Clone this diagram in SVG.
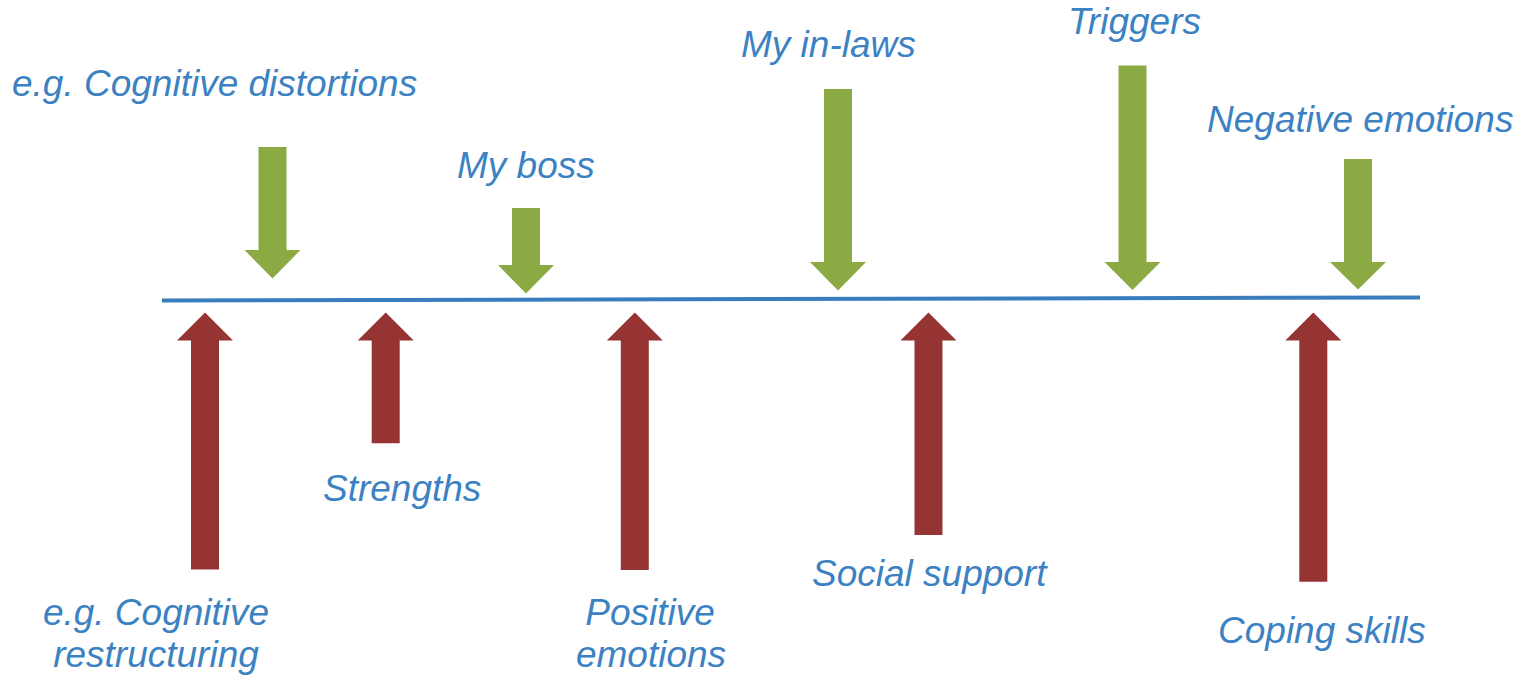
<svg xmlns="http://www.w3.org/2000/svg" width="1524" height="675" viewBox="0 0 1524 675">
  <style>
    .lbl { font-family: "Liberation Sans", Arial, sans-serif; font-style: italic; font-size: 37px; fill: #3C82C2; }
    .push { fill: #8BAA43; }
    .lift { fill: #963434; }
    .axis { stroke: #3A7DBC; stroke-width: 4; fill: none; }
  </style>
  <rect width="1524" height="675" fill="#FFFFFF"/>

  <!-- baseline -->
  <g id="connectors">
    <line class="axis" x1="162" y1="300.5" x2="1420" y2="297.5"/>
  </g>

  <!-- downward pressures (green) -->
  <g id="node-distortions">
    <polygon class="push" points="258.5,147 286.5,147 286.5,250 300.5,250 272.5,278.5 244.5,250 258.5,250"/>
    <text class="lbl" x="12" y="96">e.g. Cognitive distortions</text>
  </g>
  <g id="node-boss">
    <polygon class="push" points="512,208 540,208 540,265 554,265 526,293.5 498,265 512,265"/>
    <text class="lbl" x="457" y="178">My boss</text>
  </g>
  <g id="node-inlaws">
    <polygon class="push" points="824,89 852,89 852,262 866,262 838,290.5 810,262 824,262"/>
    <text class="lbl" x="741" y="57">My in-laws</text>
  </g>
  <g id="node-triggers">
    <polygon class="push" points="1118.5,65.5 1146.5,65.5 1146.5,262 1160.5,262 1132.5,290 1104.5,262 1118.5,262"/>
    <text class="lbl" x="1068" y="34">Triggers</text>
  </g>
  <g id="node-negative">
    <polygon class="push" points="1344,159 1372,159 1372,262 1386,262 1358,289.5 1330,262 1344,262"/>
    <text class="lbl" x="1207" y="132">Negative emotions</text>
  </g>

  <!-- upward supports (red) -->
  <g id="node-restructuring">
    <polygon class="lift" points="191,569.5 219,569.5 219,340.5 233,340.5 205,312.5 177,340.5 191,340.5"/>
    <text class="lbl" x="156" y="625" text-anchor="middle">e.g. Cognitive</text>
    <text class="lbl" x="156" y="667" text-anchor="middle">restructuring</text>
  </g>
  <g id="node-strengths">
    <polygon class="lift" points="371.7,443.3 399.7,443.3 399.7,340.5 413.7,340.5 385.7,312.5 357.7,340.5 371.7,340.5"/>
    <text class="lbl" x="323" y="501">Strengths</text>
  </g>
  <g id="node-positive">
    <polygon class="lift" points="620.8,570 648.8,570 648.8,340.5 662.8,340.5 634.8,312.5 606.8,340.5 620.8,340.5"/>
    <text class="lbl" x="650" y="625" text-anchor="middle">Positive</text>
    <text class="lbl" x="651" y="667" text-anchor="middle">emotions</text>
  </g>
  <g id="node-social">
    <polygon class="lift" points="914.5,535 942.5,535 942.5,340.5 956.5,340.5 928.5,312.5 900.5,340.5 914.5,340.5"/>
    <text class="lbl" x="812" y="586">Social support</text>
  </g>
  <g id="node-coping">
    <polygon class="lift" points="1299.3,581.7 1327.3,581.7 1327.3,340.5 1341.3,340.5 1313.3,312.5 1285.3,340.5 1299.3,340.5"/>
    <text class="lbl" x="1218" y="643">Coping skills</text>
  </g>
</svg>
